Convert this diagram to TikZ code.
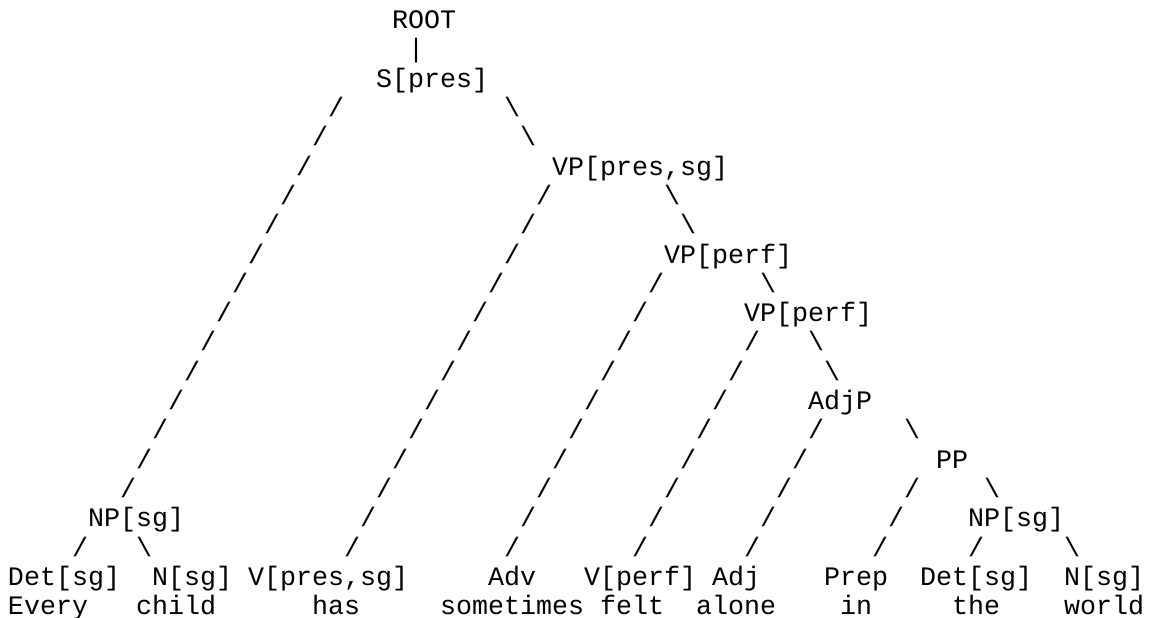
\documentclass[tikz,border=0pt]{standalone}
\usepackage{fontspec}
\newfontfamily\asciimono{Liberation Mono}
\tikzset{
  t/.style={anchor=base west, inner sep=0pt, outer sep=0pt,
            font=\asciimono\fontsize{26.67pt}{29.3pt}\selectfont, text=black},
}
\begin{document}
\begin{tikzpicture}[x=16pt, y=-29.3pt]
  \fill[white] (-0.5,0.0239) rectangle (71.3125,21.116);
  \useasboundingbox (-0.5,0.0239) rectangle (71.3125,21.116);
  % internal labels
  \node[t] (root) at (24,1) {ROOT};
  \node[t] (bar)  at (25,2) {|};
  \node[t] (s)    at (23,3) {S[pres]};
  \node[t] (vp1)  at (34,6) {VP[pres,sg]};
  \node[t] (vp2)  at (41,9) {VP[perf]};
  \node[t] (vp3)  at (46,11) {VP[perf]};
  \node[t] (adjp) at (50,14) {AdjP};
  \node[t] (pp)   at (58,16) {PP};
  \node[t] (np1)  at (5,18) {NP[sg]};
  \node[t] (np2)  at (60,18) {NP[sg]};
  % long left branches
  \foreach \r in {4,...,17} \node[t] (a\r) at ({24-\r},\r) {/};
  \foreach \r in {7,...,19} \node[t] (c\r) at ({40-\r},\r) {/};
  \foreach \r in {10,...,19} \node[t] (e\r) at ({50-\r},\r) {/};
  \foreach \r in {12,...,19} \node[t] (g\r) at ({58-\r},\r) {/};
  \foreach \r in {15,...,19} \node[t] (i\r) at ({65-\r},\r) {/};
  \foreach \r in {17,...,19} \node[t] (k\r) at ({73-\r},\r) {/};
  % right branches
  \node[t] (b4)  at (31,4)  {\textbackslash};
  \node[t] (b5)  at (32,5)  {\textbackslash};
  \node[t] (d7)  at (41,7)  {\textbackslash};
  \node[t] (d8)  at (42,8)  {\textbackslash};
  \node[t] (f10) at (47,10) {\textbackslash};
  \node[t] (h12) at (50,12) {\textbackslash};
  \node[t] (h13) at (51,13) {\textbackslash};
  \node[t] (j15) at (56,15) {\textbackslash};
  \node[t] (l17) at (61,17) {\textbackslash};
  \node[t] (m1l) at (4,19)  {/};
  \node[t] (m1r) at (8,19)  {\textbackslash};
  \node[t] (m2l) at (60,19) {/};
  \node[t] (m2r) at (66,19) {\textbackslash};
  % leaves
  \node[t] (det1)  at (0,20)  {Det[sg]};
  \node[t] (n1)    at (9,20)  {N[sg]};
  \node[t] (v1)    at (15,20) {V[pres,sg]};
  \node[t] (adv)   at (30,20) {Adv};
  \node[t] (v2)    at (36,20) {V[perf]};
  \node[t] (adj)   at (44,20) {Adj};
  \node[t] (prep)  at (51,20) {Prep};
  \node[t] (det2)  at (57,20) {Det[sg]};
  \node[t] (n2)    at (66,20) {N[sg]};
  % words
  \node[t] (w1) at (0,21)  {Every};
  \node[t] (w2) at (8,21)  {child};
  \node[t] (w3) at (19,21) {has};
  \node[t] (w4) at (27,21) {sometimes};
  \node[t] (w5) at (37,21) {felt};
  \node[t] (w6) at (43,21) {alone};
  \node[t] (w7) at (52,21) {in};
  \node[t] (w8) at (59,21) {the};
  \node[t] (w9) at (66,21) {world};
\end{tikzpicture}
\end{document}
